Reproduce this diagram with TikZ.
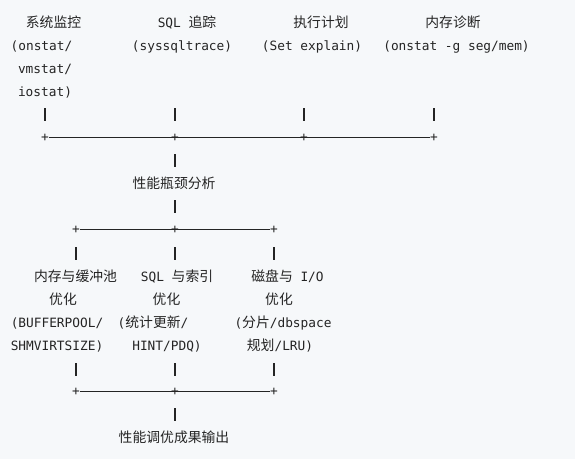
\documentclass[tikz,border=0pt]{standalone}
\usepackage{fontspec}
\newfontfamily\monof{DejaVu Sans Mono}
\newfontfamily\cjk{Noto Sans CJK SC}[Scale=1.08]
\definecolor{ink}{HTML}{242424}
\definecolor{bgc}{HTML}{F6F8FA}
\begin{document}
\begin{tikzpicture}[x=1pt,y=-1pt,
  txt/.style={anchor=base, inner sep=0pt, text=ink, font=\monof\fontsize{12.8}{15}\selectfont},
  plus/.style={anchor=center, inner sep=0pt, text=ink, font=\monof\fontsize{12.8}{15}\selectfont},
  bar/.style={fill=ink, draw=none, inner sep=0pt, minimum width=1.6pt, minimum height=13pt},
  hl/.style={draw=ink, line width=0.9pt}]
\fill[bgc] (0,0) rectangle (575,459);
\useasboundingbox (0,0) rectangle (575,459);
% top row texts
\node[txt] (t1) at (53.5,27.5) {\cjk 系统监控};
\node[txt] (t2) at (187,27.5) {SQL {\cjk 追踪}};
\node[txt] (t3) at (321,27.5) {\cjk 执行计划};
\node[txt] (t4) at (453,27.5) {\cjk 内存诊断};
\node[txt] (s1) at (41.5,50.5) {(onstat/};
\node[txt] (s2) at (182,50.5) {(syssqltrace)};
\node[txt] (s3) at (312,50.5) {(Set explain)};
\node[txt] (s4) at (456.5,50.5) {(onstat -g seg/mem)};
\node[txt] (s1b) at (45,73) {vmstat/};
\node[txt] (s1c) at (45,96) {iostat)};
% top bars and junction
\node[bar] (b1) at (45,114.5) {};
\node[bar] (b2) at (175,114.5) {};
\node[bar] (b3) at (304,114.5) {};
\node[bar] (b4) at (434,114.5) {};
\node[plus] (p1) at (45,137.5) {+};
\node[plus] (p2) at (175,137.5) {+};
\node[plus] (p3) at (304,137.5) {+};
\node[plus] (p4) at (434,137.5) {+};
\draw[hl] (p1) -- (p4);
\node[bar] (bb1) at (175,160.5) {};
\node[txt] (mid) at (174,188.5) {\cjk 性能瓶颈分析};
\node[bar] (bb2) at (175,206.5) {};
% middle junction
\node[plus] (q1) at (76,229.5) {+};
\node[plus] (q2) at (175,229.5) {+};
\node[plus] (q3) at (274,229.5) {+};
\draw[hl] (q1) -- (q3);
\node[bar] (c1) at (76,253) {};
\node[bar] (c2) at (175,253) {};
\node[bar] (c3) at (274,253) {};
% optimisation texts
\node[txt] (o1) at (75.5,281) {\cjk 内存与缓冲池};
\node[txt] (o2) at (177,281) {SQL {\cjk 与索引}};
\node[txt] (o3) at (287.5,281) {{\cjk 磁盘与} I/O};
\node[txt] (o1b) at (63,304) {\cjk 优化};
\node[txt] (o2b) at (166.5,304) {\cjk 优化};
\node[txt] (o3b) at (279,304) {\cjk 优化};
\node[txt] (o1c) at (57,327) {(BUFFERPOOL/};
\node[txt] (o2c) at (153,327) {({\cjk 统计更新}/};
\node[txt] (o3c) at (283,327) {({\cjk 分片}/dbspace};
\node[txt] (o1d) at (57,350) {SHMVIRTSIZE)};
\node[txt] (o2d) at (167,350) {HINT/PDQ)};
\node[txt] (o3d) at (280,350) {{\cjk 规划}/LRU)};
\node[bar] (d1) at (76,369) {};
\node[bar] (d2) at (175,369) {};
\node[bar] (d3) at (274,369) {};
% bottom junction
\node[plus] (r1) at (76,391.5) {+};
\node[plus] (r2) at (175,391.5) {+};
\node[plus] (r3) at (274,391.5) {+};
\draw[hl] (r1) -- (r3);
\node[bar] (e1) at (175,414.5) {};
\node[txt] (out) at (174,442) {\cjk 性能调优成果输出};
\end{tikzpicture}
\end{document}
